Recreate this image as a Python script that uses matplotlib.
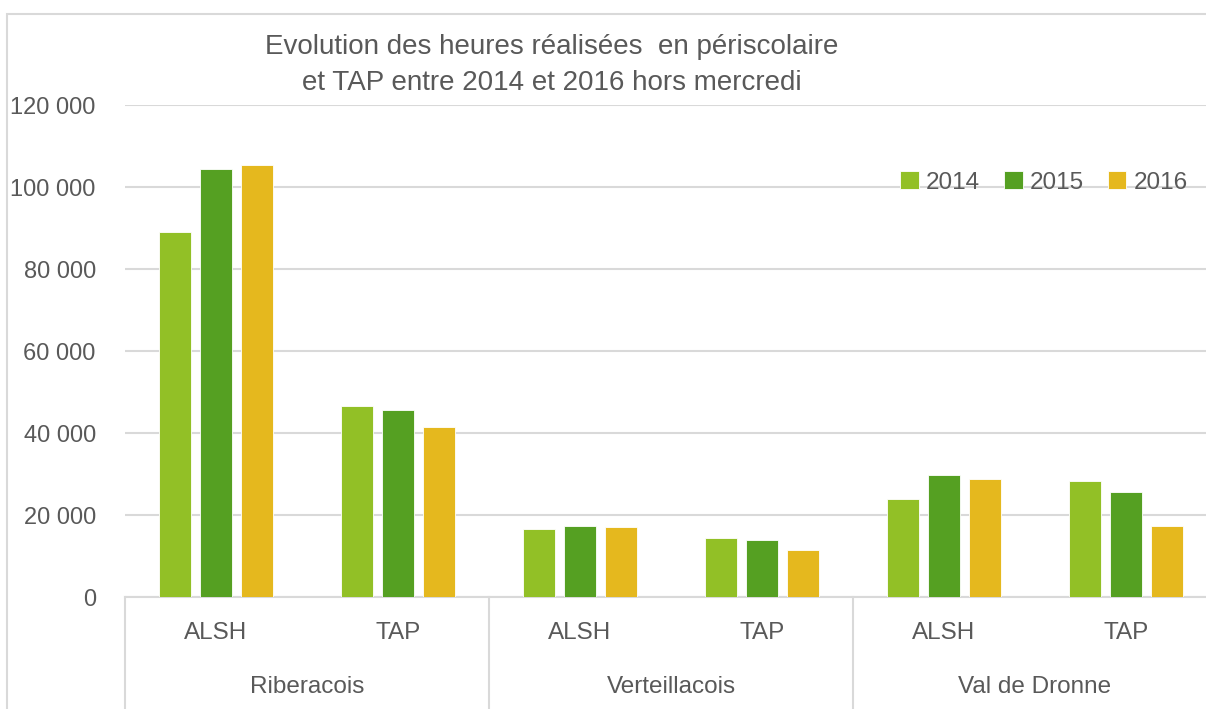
import numpy as np
import matplotlib.pyplot as plt
from matplotlib import transforms
from matplotlib.patches import Rectangle

plt.rcParams['font.family'] = ['Liberation Sans', 'DejaVu Sans']

groups = ['Riberacois', 'Verteillacois', 'Val de Dronne']
sub_labels = ['ALSH', 'TAP', 'ALSH', 'TAP', 'ALSH', 'TAP']
years = ['2014', '2015', '2016']
v2014 = [89000, 46500, 16600, 14400, 23800, 28300]
v2015 = [104500, 45600, 17300, 14000, 29700, 25600]
v2016 = [105300, 41500, 17100, 11500, 28700, 17200]
colors = ['#92C026', '#55A022', '#E5B81E']
title = "Evolution des heures réalisées  en périscolaire\net TAP entre 2014 et 2016 hors mercredi"

W, H = 1206, 709
fig = plt.figure(figsize=(W / 100, H / 100), dpi=100)
# outer chart border (cropped on the right and bottom)
fig.patches.append(Rectangle((7 / W, -0.1), 1.2, 1 - 14 / H + 0.1,
                             transform=fig.transFigure, fill=False,
                             edgecolor='#d9d9d9', linewidth=1.5))

ax = fig.add_axes([125 / W, 112 / H, 1092 / W, 492 / H])
txt = '#595959'
x = np.arange(len(sub_labels))
step = 0.225
width = 0.18
for i, (vals, yr) in enumerate(zip([v2014, v2015, v2016], years)):
    ax.bar(x + (i - 1) * step, vals, width, color=colors[i], label=yr,
           edgecolor='white', linewidth=0.6, zorder=3)

ax.set_xlim(-0.5, len(sub_labels) - 0.5)
ax.set_ylim(0, 120000)
ticks = np.arange(0, 120001, 20000)
ax.set_yticks(ticks)
ax.set_yticklabels(['{:,}'.format(t).replace(',', ' ') for t in ticks],
                   fontsize=17, color=txt)
ax.tick_params(axis='y', length=0, pad=21)
ax.grid(axis='y', color='#d9d9d9', linewidth=1.5, zorder=0)
for s in ['top', 'right', 'left']:
    ax.spines[s].set_visible(False)
ax.spines['bottom'].set_color('#d9d9d9')
ax.spines['bottom'].set_linewidth(1.5)

# multi-level category axis
ax.set_xticks(x)
ax.set_xticklabels(sub_labels, fontsize=17.5, color=txt)
ax.tick_params(axis='x', length=0, pad=18)
trans = transforms.blended_transform_factory(ax.transData, ax.transAxes)
for g, name in enumerate(groups):
    ax.text(2 * g + 0.5, -0.183, name, transform=trans, ha='center',
            va='center', fontsize=17.5, color=txt)
for b in [-0.5, 1.5, 3.5, 5.5]:
    ax.plot([b, b], [0, -0.25], transform=trans, color='#d9d9d9',
            linewidth=1.5, clip_on=False)

fig.text(552 / W, 1 - 65 / H, title, ha='center', va='center',
         fontsize=20, color=txt, linespacing=1.5)

ax.legend(loc='upper left', bbox_to_anchor=(0.69, 0.91), ncol=3, frameon=False,
          fontsize=17.5, labelcolor=txt, handlelength=0.75, handleheight=0.75,
          handletextpad=0.3, columnspacing=1.0)

fig.savefig('out.png', dpi=100)
